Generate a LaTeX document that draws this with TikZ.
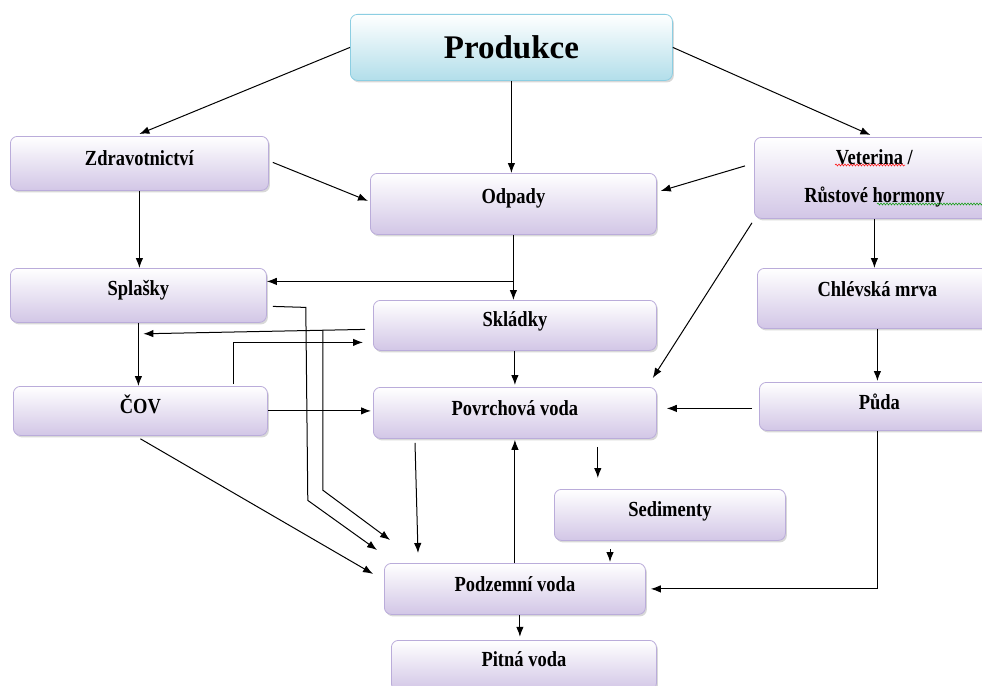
\documentclass[tikz,border=0pt]{standalone}
\usepackage{fontspec}
\setmainfont{Liberation Serif}
\newfontfamily\boxfont[FakeStretch=0.86]{Liberation Serif}
\usetikzlibrary{arrows.meta,shadows,calc,decorations.pathmorphing}
\definecolor{lavb}{RGB}{210,198,230}
\definecolor{lavd}{RGB}{186,172,218}
\definecolor{cyb}{RGB}{178,222,234}
\definecolor{cyd}{RGB}{140,206,226}
\begin{document}
\begin{tikzpicture}[x=1pt,y=-1pt,
 box/.style={draw=lavd, line width=0.8pt, rounded corners=7pt, top color=white, bottom color=lavb,
   anchor=north west, inner sep=0pt, align=center,
   font=\boxfont\bfseries\fontsize{21.5}{24}\selectfont,
   drop shadow={shadow xshift=1.5pt, shadow yshift=-2pt, opacity=0.3}},
 arr/.style={-{Latex[length=10pt,width=7.5pt]}, line width=1pt},
 wavy/.style={line width=0.5pt, decorate, decoration={snake, amplitude=1pt, segment length=3pt}}]
\fill[white] (0,0) rectangle (982,685);
\useasboundingbox (0,0) rectangle (982,685);
\clip (0,0) rectangle (982,685);

% boxes
\node[box, draw=cyd, bottom color=cyb, minimum width=322pt, minimum height=66pt,
  font=\bfseries\fontsize{33}{36}\selectfont] (prod) at (350,14) {Produkce};
\node[box, minimum width=258pt, minimum height=54pt, text depth=10pt] (zdr) at (10,136) {Zdravotnictví};
\node[box, minimum width=286pt, minimum height=61pt, text depth=16pt] (odp) at (370,173) {Odpady};
\node[box, minimum width=240pt, minimum height=81pt] (vet) at (754,137) {Veterina /\\[14pt]Růstové hormony};
\node[box, minimum width=256pt, minimum height=54pt, text depth=15pt] (spl) at (10,268) {Splašky};
\node[box, minimum width=283pt, minimum height=50pt, text depth=12pt] (skl) at (373,300) {Skládky};
\node[box, minimum width=240pt, minimum height=60pt, text depth=18pt] (chl) at (757,268) {Chlévská mrva};
\node[box, minimum width=254pt, minimum height=49pt, text depth=13pt] (cov) at (13,386) {ČOV};
\node[box, minimum width=283pt, minimum height=51pt, text depth=9pt] (pov) at (373,387) {Povrchová voda};
\node[box, minimum width=240pt, minimum height=48pt, text depth=10pt] (pud) at (759,382) {Půda};
\node[box, minimum width=231pt, minimum height=51pt, text depth=12pt] (sed) at (554,489) {Sedimenty};
\node[box, minimum width=261pt, minimum height=51pt, text depth=10pt] (pod) at (384,563) {Podzemní voda};
\node[box, minimum width=265pt, minimum height=50pt, text depth=12pt] (pit) at (391,640) {Pitná voda};

% spell-check underlines in the Veterina box
\coordinate (w1a) at ([xshift=81pt,yshift=-28pt]vet.north west);
\coordinate (w1b) at ([xshift=151pt,yshift=-28pt]vet.north west);
\coordinate (w2a) at ([xshift=123pt,yshift=-67pt]vet.north west);
\coordinate (w2b) at ([xshift=230pt,yshift=-67pt]vet.north west);
\draw[wavy, red] (w1a) -- (w1b);
\draw[wavy, green!60!black] (w2a) -- (w2b);

% helper coordinates
\coordinate (splin) at ([yshift=14pt]spl.east);
\coordinate (sklout) at ([xshift=-8pt,yshift=-4pt]skl.west);
\coordinate (sklarr) at ([xshift=5pt,yshift=-11pt]spl.south);
\coordinate (covup) at ([xshift=-34pt,yshift=2pt]cov.north east);
\coordinate (sklin) at ([xshift=-10pt,yshift=-17pt]skl.west);
\coordinate (splout) at ([xshift=6pt,yshift=-11pt]spl.east);
\coordinate (j2) at ($(sklout)!0.19!(sklarr)$);
\coordinate (povsed) at ([xshift=-59pt,yshift=-8pt]pov.south east);
\coordinate (sedpod) at ([xshift=56pt,yshift=-8pt]sed.south west);

% connectors
\draw[arr] (prod.west) -- ([yshift=2pt]zdr.north);
\draw[arr] (prod.south) -- (prod.south |- odp.north);
\draw[arr] (prod.east) -- ([xshift=-4pt,yshift=2pt]vet.north);
\draw[arr] ([xshift=4pt,yshift=1pt]zdr.east) -- ([xshift=-2pt,yshift=3pt]odp.west);
\draw[arr] ([xshift=-9pt,yshift=12pt]vet.west) -- ([xshift=4pt,yshift=13pt]odp.east);
\draw[arr] (zdr.south) -- (zdr.south |- spl.north);
\draw[arr] (odp.south) -- (odp.south |- skl.north);
\draw[arr] (odp.south |- splin) -- (splin);
\draw[arr] (sklout) -- (sklarr);
\draw[arr] (covup) |- (sklin);
\draw[arr] (spl.south) -- (spl.south |- cov.north);
\draw[arr] (splout) -- ++(33,1) -- ++(2,193) -- ([xshift=-7pt,yshift=13pt]pod.north west);
\draw[arr] (j2) -- ++(0,160) -- ([xshift=6pt,yshift=23pt]pod.north west);
\draw[arr] ([yshift=-3pt]cov.south) -- ([xshift=-11pt,yshift=15pt]pod.west);
\draw[arr] (cov.east) -- ([xshift=-2pt]cov.east -| pov.west);
\draw[arr] (skl.south) -- ([yshift=2pt]skl.south |- pov.north);
\draw[arr] ([xshift=-2pt,yshift=-4pt]vet.south west) -- ([xshift=-4pt,yshift=9pt]pov.north east);
\draw[arr] (vet.south) -- (vet.south |- chl.north);
\draw[arr] (chl.south) -- ([yshift=1pt]chl.south |- pud.north);
\draw[arr] ([xshift=-7pt,yshift=-2pt]pud.west) -- ([xshift=10pt,yshift=4.5pt]pov.east);
\draw[arr] ([xshift=42pt,yshift=-4pt]pov.south west) -- ([xshift=34pt,yshift=10pt]pod.north west);
\draw[arr] (pod.north) -- ([yshift=-1pt]pod.north |- pov.south);
\draw[arr] (povsed) -- ([yshift=11pt]povsed |- sed.north);
\draw[arr] (sedpod) -- ([yshift=1pt]sedpod |- pod.north);
\draw[arr] ([xshift=-2pt]pud.south) |- ([xshift=5pt]pod.east);
\draw[arr] ([xshift=5pt]pod.south) -- ++(0,22);
\end{tikzpicture}
\end{document}
